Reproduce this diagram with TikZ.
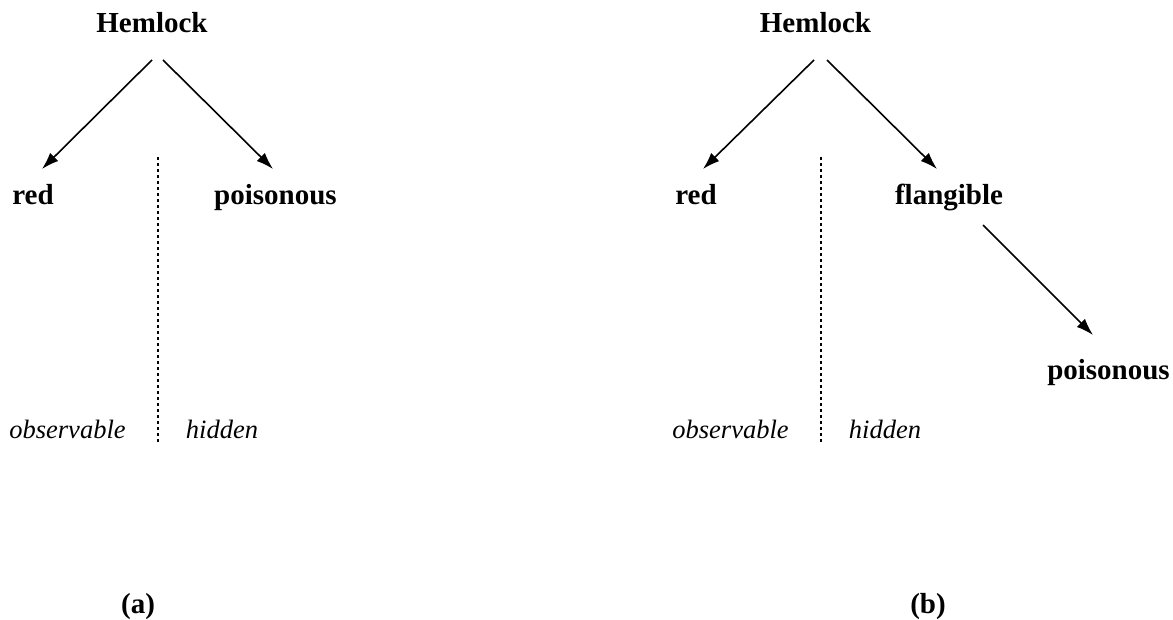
\documentclass[tikz,border=0pt]{standalone}
\usepackage{fontspec}
\setmainfont{Liberation Serif}
\usetikzlibrary{arrows.meta}
\begin{document}
\begin{tikzpicture}[x=1pt,y=-1pt,
  lbl/.style={font=\fontsize{29}{32}\selectfont\bfseries, anchor=base, inner sep=0pt},
  side/.style={font=\fontsize{26.5}{30}\selectfont\itshape, anchor=base, inner sep=0pt},
  arr/.style={line width=1.6pt, -{Latex[length=17pt,width=11.5pt]}},
  divider/.style={line width=1.6pt, dash pattern=on 3pt off 3pt}]
\useasboundingbox (0,0) rectangle (1173,620);
% panel (a)
\node[lbl] (hA) at (152,33) {Hemlock};
\node[lbl] (redA) at (33,205) {red};
\node[lbl] (poisA) at (275.5,205) {poisonous};
\node[side] (obsA) at (67.5,438) {observable};
\node[side] (hidA) at (222,438) {hidden};
\node[lbl] (capA) at (138,613) {(a)};
\coordinate (hAl) at (152,60); \coordinate (redAt) at (42,169);
\coordinate (hAr) at (163,60); \coordinate (poisAt) at (273,169);
\draw[arr] (hAl) -- (redAt);
\draw[arr] (hAr) -- (poisAt);
\coordinate (dAt) at (158,157); \coordinate (dAb) at (158,442);
\draw[divider] (dAt) -- (dAb);
% panel (b)
\node[lbl] (hB) at (815.5,33) {Hemlock};
\node[lbl] (redB) at (696,205) {red};
\node[lbl] (flB) at (949,205) {flangible};
\node[lbl] (poisB) at (1108.5,380) {poisonous};
\node[side] (obsB) at (730.5,438) {observable};
\node[side] (hidB) at (885,438) {hidden};
\node[lbl] (capB) at (928,613) {(b)};
\coordinate (hBl) at (814,60); \coordinate (redBt) at (703,169);
\coordinate (hBr) at (827,60); \coordinate (flBt) at (937,169);
\coordinate (flBs) at (983,225); \coordinate (poisBt) at (1093,335);
\draw[arr] (hBl) -- (redBt);
\draw[arr] (hBr) -- (flBt);
\draw[arr] (flBs) -- (poisBt);
\coordinate (dBt) at (821,157); \coordinate (dBb) at (821,442);
\draw[divider] (dBt) -- (dBb);
\end{tikzpicture}
\end{document}
